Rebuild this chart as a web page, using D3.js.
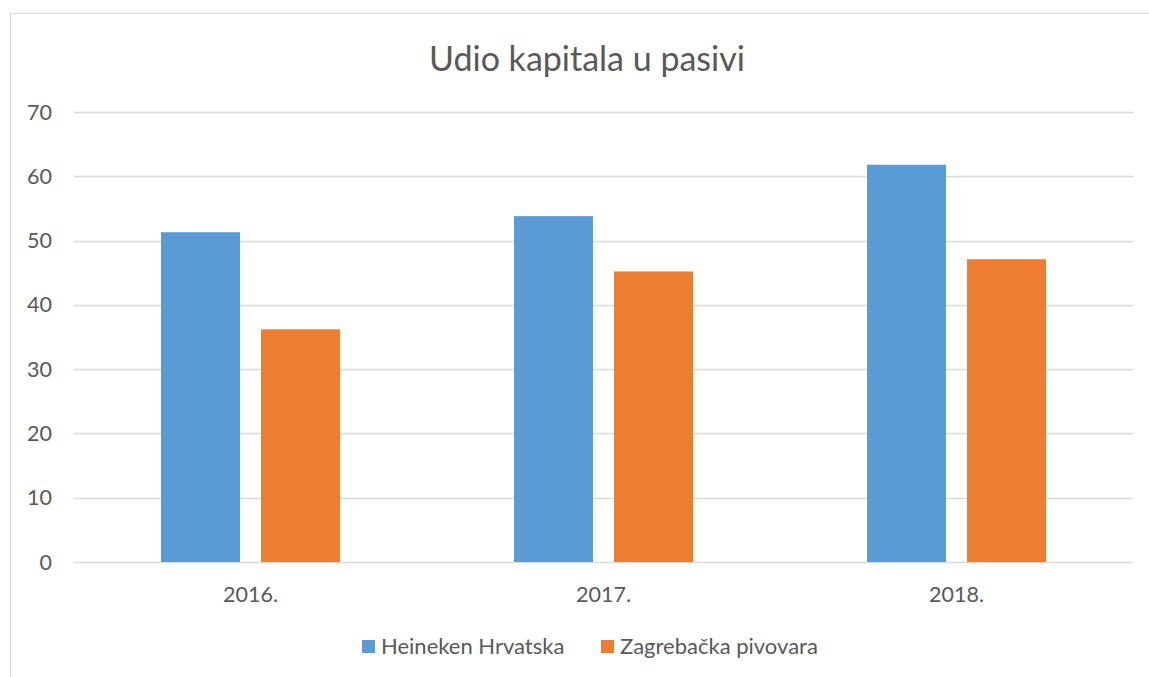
<!DOCTYPE html>
<html><head><meta charset="utf-8">
<script src="https://cdn.jsdelivr.net/npm/d3@7"></script>
<style>body{margin:0;background:#fff;} text{font-family:"Lato",sans-serif;fill:#595959;}</style>
</head><body>
<svg id="c" width="1149" height="677"></svg>
<script>
const categories = ["2016.", "2017.", "2018."];
const seriesNames = ["Heineken Hrvatska", "Zagrebačka pivovara"];
const heineken = [51.3, 53.8, 61.8];
const zagrebacka = [36.2, 45.2, 47.1];
const yTicks = [0, 10, 20, 30, 40, 50, 60, 70];
const colors = ["#5B9BD5", "#ED7D31"];
const title = "Udio kapitala u pasivi";

(function(){
const svg = d3.select("#c");
svg.append("rect").attr("x",10.5).attr("y",13.5).attr("width",1200).attr("height",700)
  .attr("fill","none").attr("stroke","#D9D9D9").attr("stroke-width",1);

const pL = 74, pR = 1133, pT = 112, pB = 562;
const x = d3.scaleBand().domain(categories).range([pL, pR]).paddingInner(0).paddingOuter(0);
const y = d3.scaleLinear().domain([0, 70]).range([pB, pT]);

svg.append("g").selectAll("line").data(yTicks).join("line")
  .attr("x1", pL).attr("x2", pR)
  .attr("y1", d => Math.round(y(d)) + 0.5).attr("y2", d => Math.round(y(d)) + 0.5)
  .attr("stroke", "#D9D9D9").attr("stroke-width", 1.5);

svg.append("g").selectAll("text").data(yTicks).join("text")
  .attr("x", 52).attr("y", d => y(d)).attr("dy", "0.35em").attr("text-anchor", "end")
  .attr("font-size", 21.5).text(d => d);

const sub = d3.scaleBand().domain([0,1]).range([0, x.bandwidth()]).paddingInner(0.21).paddingOuter(0.87);
const data = categories.map((c,i) => [heineken[i], zagrebacka[i]]);
const groups = svg.append("g").selectAll("g").data(categories).join("g")
  .attr("transform", c => `translate(${x(c)},0)`);
groups.selectAll("rect").data((c,i) => data[i].map((v,j)=>({v,j}))).join("rect")
  .attr("x", d => sub(d.j)).attr("width", sub.bandwidth())
  .attr("y", d => y(d.v)).attr("height", d => y(0) - y(d.v))
  .attr("fill", d => colors[d.j]);

svg.append("g").selectAll("text").data(categories).join("text")
  .attr("x", c => x(c) + x.bandwidth()/2).attr("y", 594).attr("dy","0.35em")
  .attr("text-anchor","middle").attr("font-size",21.5).text(c => c);

svg.append("text").attr("x", 587).attr("y", 59).attr("dy","0.35em").attr("text-anchor","middle")
  .attr("font-size", 34).text(title);

const legX = [362, 601];
const leg = svg.append("g").selectAll("g").data(seriesNames).join("g")
  .attr("transform", (d,i) => `translate(${legX[i]},640)`);
leg.append("rect").attr("width",13).attr("height",13).attr("fill",(d,i)=>colors[i]);
leg.append("text").attr("x",19).attr("y",6.5).attr("dy","0.35em").attr("font-size",22).text(d=>d);
})();
</script>
</body></html>
